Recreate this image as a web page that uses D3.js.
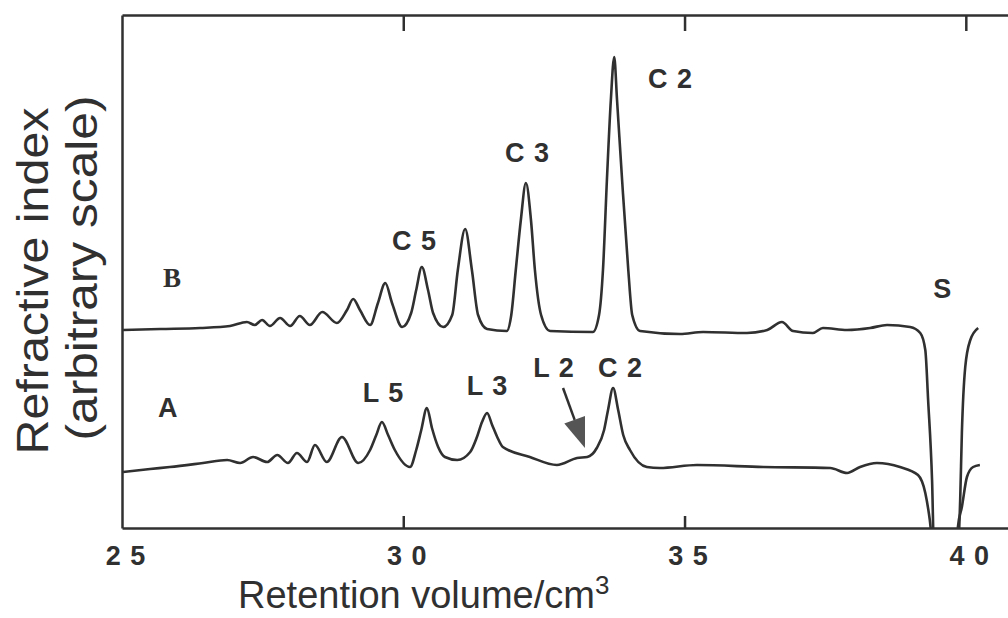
<!DOCTYPE html>
<html>
<head>
<meta charset="utf-8">
<script src="https://cdn.jsdelivr.net/npm/d3@7"></script>
<style>
  body { margin: 0; background: #fff; }
</style>
</head>
<body>
<div id="chart"></div>
<script>
// retention volume (cm3), refractive index (arbitrary units)
const traceB = [
  [25.02, 39.6], [25.68, 39.8], [26.39, 40.0], [26.92, 40.4], [27.22, 41.2], [27.36, 40.6],
  [27.49, 41.6], [27.63, 40.4], [27.81, 42.0], [27.99, 40.4], [28.16, 42.4], [28.34, 40.6],
  [28.56, 43.2], [28.82, 41.0], [29.00, 43.6], [29.11, 45.8], [29.23, 43.6], [29.41, 40.6],
  [29.55, 45.0], [29.68, 49.0], [29.80, 45.0], [29.98, 40.2], [30.14, 43.0], [30.23, 47.6],
  [30.33, 52.2], [30.44, 47.6], [30.53, 43.0], [30.71, 40.2], [30.87, 42.6], [30.97, 51.6],
  [31.10, 59.8], [31.22, 51.6], [31.33, 42.6], [31.49, 39.8], [31.84, 39.4], [31.92, 42.6],
  [32.00, 51.6], [32.09, 61.6], [32.18, 69.0], [32.27, 61.6], [32.34, 51.6], [32.45, 42.6],
  [32.61, 39.4], [33.37, 39.2], [33.48, 42.6], [33.55, 51.6], [33.62, 69.6], [33.69, 85.6],
  [33.75, 94.2], [33.80, 85.6], [33.89, 69.6], [34.00, 51.6], [34.07, 42.6], [34.21, 39.4],
  [34.92, 38.8], [35.33, 39.2], [36.11, 39.0], [36.47, 39.6], [36.73, 41.2], [36.93, 39.4],
  [37.28, 39.0], [37.46, 40.0], [37.89, 39.6], [38.30, 40.0], [38.60, 40.6], [39.01, 40.2],
  [39.19, 39.0], [39.28, 35.6], [39.33, 25.6], [39.40, 9.6], [39.44, -6.4], [39.84, -6.4],
  [39.90, 5.6], [39.93, 19.0], [39.99, 32.2], [40.08, 37.6], [40.22, 40.0]
];

const traceA = [
  [25.02, 11.2], [25.50, 11.8], [25.85, 12.2], [26.44, 13.0], [26.87, 13.6], [27.10, 13.0],
  [27.33, 14.2], [27.58, 13.2], [27.76, 14.6], [27.95, 13.0], [28.11, 15.0], [28.29, 13.2],
  [28.43, 16.6], [28.64, 13.2], [28.91, 18.2], [29.20, 13.0], [29.41, 15.6], [29.52, 18.6],
  [29.62, 21.2], [29.73, 18.6], [29.85, 15.6], [30.12, 12.2], [30.23, 15.6], [30.32, 19.6],
  [30.42, 24.0], [30.51, 20.0], [30.62, 16.2], [30.74, 14.2], [30.96, 13.6], [31.19, 15.2],
  [31.31, 18.2], [31.40, 21.2], [31.49, 23.0], [31.58, 20.6], [31.67, 18.2], [31.77, 16.2],
  [32.25, 14.2], [32.73, 12.6], [33.09, 14.0], [33.27, 14.2], [33.44, 16.0], [33.57, 19.6],
  [33.64, 23.6], [33.73, 28.0], [33.82, 23.6], [33.91, 18.6], [34.03, 15.6], [34.33, 12.2],
  [34.56, 12.0], [35.22, 12.6], [36.40, 12.2], [37.59, 12.0], [37.89, 11.0], [38.12, 12.2],
  [38.42, 13.0], [38.83, 12.2], [39.15, 10.6], [39.28, 7.0], [39.36, 1.6], [39.44, -6.4],
  [39.83, -6.4], [39.86, 0.2], [39.93, 4.2], [40.02, 10.2], [40.13, 12.2], [40.25, 12.6]
];

const tickValues = [25, 30, 35, 40];
const tickLabels = ["2 5", "3 0", "3 5", "4 0"];

// peak labels: text, retention volume, height
const peakLabels = [
  ["C 2", 34.35, 88.0], ["C 3", 31.81, 73.2], ["C 5", 29.80, 55.6],
  ["L 5", 29.28, 25.2], ["L 3", 31.13, 26.6], ["L 2", 32.31, 30.2],
  ["C 2", 33.46, 30.2], ["S", 39.42, 46.0]
];
const traceLabels = [["B", 25.73, 48.2], ["A", 25.64, 22.2]];
const arrowL2 = [[32.84, 28.0], [33.23, 16.0]];

const width = 1008, height = 618;
const ink = "#303030";

const svg = d3.select("#chart").append("svg")
  .attr("width", width).attr("height", height);

const x = d3.scaleLinear().domain([25, 40.75]).range([122, 1008]);
const y = d3.scaleLinear().domain([0, 102.6]).range([528, 15]);

svg.append("defs").append("clipPath").attr("id", "plot")
  .append("rect").attr("x", 122).attr("y", 15).attr("width", 886).attr("height", 513);

// axes (frame)
const axBottom = svg.append("g").attr("transform", "translate(0,528)")
  .call(d3.axisBottom(x).tickValues([30, 35]).tickSizeInner(-12).tickSizeOuter(0).tickFormat(""));
const axTop = svg.append("g").attr("transform", "translate(0,15)")
  .call(d3.axisTop(x).tickValues([30, 35, 40]).tickSizeInner(-16).tickSizeOuter(0).tickFormat(""));
const axLeft = svg.append("g").attr("transform", "translate(122,0)")
  .call(d3.axisLeft(y).tickValues([]).tickSizeOuter(0));
[axBottom, axTop, axLeft].forEach(g => {
  g.selectAll("path, line").attr("stroke", ink).attr("stroke-width", 2.5);
});

// tick labels
svg.selectAll(".tl").data(tickValues).enter().append("text")
  .attr("x", d => x(d) + 4).attr("y", 565)
  .attr("text-anchor", "middle")
  .style("font-family", "'Liberation Sans', Arial, sans-serif")
  .style("font-size", "27px").style("font-weight", "bold")
  .style("letter-spacing", "1px")
  .attr("fill", ink)
  .text((d, i) => tickLabels[i]);

// axis titles
const title = svg.append("text")
  .attr("x", 238).attr("y", 608)
  .style("font-family", "'Liberation Sans', Arial, sans-serif")
  .style("font-size", "38px").attr("fill", ink);
title.append("tspan").text("Retention volume/cm");
title.append("tspan").attr("dy", -14).style("font-size", "26px").text("3");

svg.append("text")
  .attr("transform", "translate(48,281) rotate(-90)")
  .attr("text-anchor", "middle")
  .attr("textLength", 347).attr("lengthAdjust", "spacingAndGlyphs")
  .style("font-family", "'Liberation Sans', Arial, sans-serif")
  .style("font-size", "44px").attr("fill", ink)
  .text("Refractive index");
svg.append("text")
  .attr("transform", "translate(97,268) rotate(-90)")
  .attr("text-anchor", "middle")
  .attr("textLength", 345).attr("lengthAdjust", "spacingAndGlyphs")
  .style("font-family", "'Liberation Sans', Arial, sans-serif")
  .style("font-size", "44px").attr("fill", ink)
  .text("(arbitrary scale)");

// traces
const line = d3.line().x(d => x(d[0])).y(d => y(d[1])).curve(d3.curveMonotoneX);
const plot = svg.append("g").attr("clip-path", "url(#plot)");
[traceB, traceA].forEach(t => {
  plot.append("path").datum(t)
    .attr("d", line)
    .attr("fill", "none")
    .attr("stroke", ink)
    .attr("stroke-width", 2.6)
    .attr("stroke-linejoin", "round");
});

// labels
svg.selectAll(".pl").data(peakLabels).enter().append("text")
  .attr("x", d => x(d[1])).attr("y", d => y(d[2]))
  .style("font-family", "'Liberation Sans', Arial, sans-serif")
  .style("font-size", "27px").style("font-weight", "bold")
  .style("letter-spacing", "1px")
  .attr("fill", ink)
  .text(d => d[0]);

svg.selectAll(".trl").data(traceLabels).enter().append("text")
  .attr("x", d => x(d[1])).attr("y", d => y(d[2]))
  .style("font-family", (d, i) => i === 0 ? "'Liberation Serif', serif" : "'Liberation Sans', Arial, sans-serif")
  .style("font-size", "27px").style("font-weight", "bold")
  .attr("fill", ink)
  .text(d => d[0]);

// arrow to L2 shoulder
const x1 = x(arrowL2[0][0]), y1 = y(arrowL2[0][1]);
const x2 = x(arrowL2[1][0]), y2 = y(arrowL2[1][1]);
const ang = Math.atan2(y2 - y1, x2 - x1);
const headLen = 30, headW = 11;
const bx = x2 - headLen * Math.cos(ang), by = y2 - headLen * Math.sin(ang);
svg.append("line")
  .attr("x1", x1).attr("y1", y1).attr("x2", bx).attr("y2", by)
  .attr("stroke", ink).attr("stroke-width", 2.5);
svg.append("path")
  .attr("d", `M${x2},${y2}L${bx - headW * Math.sin(ang)},${by + headW * Math.cos(ang)}L${bx + headW * Math.sin(ang)},${by - headW * Math.cos(ang)}Z`)
  .attr("fill", "#555");
</script>
</body>
</html>
